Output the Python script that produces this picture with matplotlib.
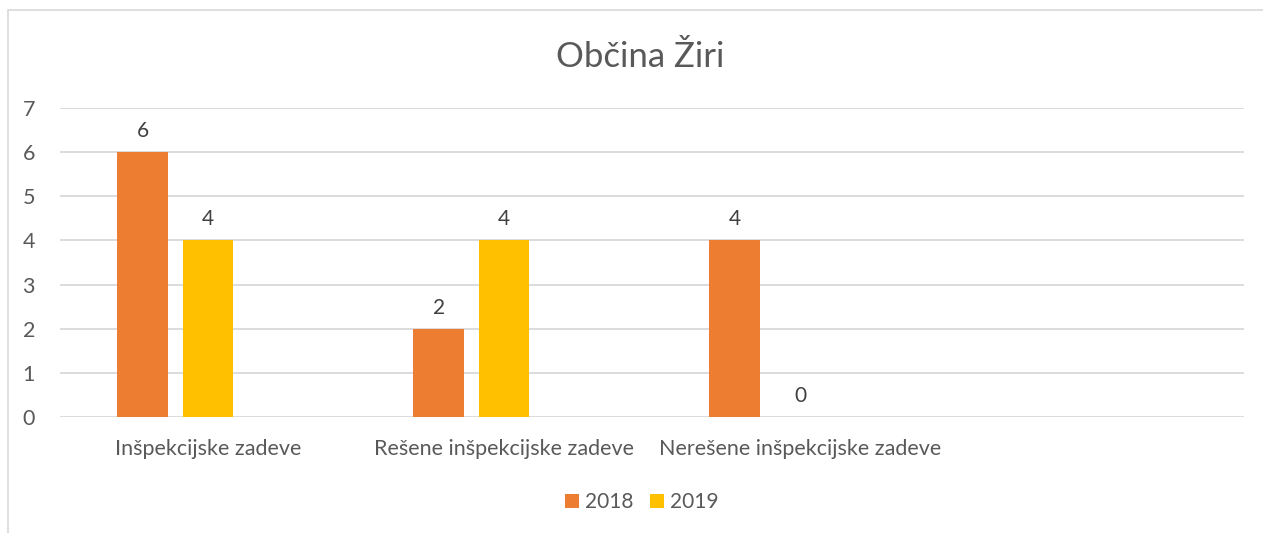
import matplotlib.pyplot as plt
from matplotlib.patches import Rectangle
import numpy as np

categories = ["Inšpekcijske zadeve", "Rešene inšpekcijske zadeve", "Nerešene inšpekcijske zadeve", ""]
series_names = ["2018", "2019"]
values_2018 = [6, 2, 4]
values_2019 = [4, 4, 0]
colors = ["#ED7D31", "#FFC000"]

plt.rcParams["font.family"] = ["Lato", "DejaVu Sans"]
txt = "#595959"

fig = plt.figure(figsize=(12.63, 5.33), dpi=100)
fig.patches.append(Rectangle((8 / 1263, -0.1), 1.2, 1 - 10 / 533 + 0.1, transform=fig.transFigure,
                             fill=False, edgecolor="#d9d9d9", linewidth=1.2))

ax = fig.add_axes([60 / 1263, 1 - 417 / 533, (1244 - 60) / 1263, (417 - 108) / 533])

x = np.arange(len(values_2018))
w = 0.172
offsets = [-0.22, 0.0]
for vals, name, c, off in zip([values_2018, values_2019], series_names, colors, offsets):
    bars = ax.bar(x + off, vals, width=w, color=c, label=name, zorder=3)
    for b, v in zip(bars, vals):
        ax.annotate(str(v), (b.get_x() + b.get_width() / 2, v), xytext=(0, 8),
                    textcoords="offset points", ha="center", va="bottom",
                    fontsize=15, color="#404040")

ax.set_xlim(-0.5, len(categories) - 0.5)
ax.set_ylim(0, 7)
ax.set_xticks(range(len(categories)))
ax.set_xticklabels(categories)
ax.set_yticks(range(0, 8))
ax.tick_params(axis="both", length=0, labelsize=15.5, labelcolor=txt)
ax.tick_params(axis="x", pad=16)
ax.tick_params(axis="y", pad=18)
ax.grid(axis="y", color="#d9d9d9", linewidth=1.3, zorder=0)
for s in ax.spines.values():
    s.set_visible(False)

fig.text(640 / 1263, 1 - 57 / 533, "Občina Žiri", ha="center", va="center", fontsize=25, color=txt)

fig.legend(loc="center", bbox_to_anchor=(642 / 1263, 1 - 502 / 533), ncol=2, frameon=False,
           fontsize=15, handlelength=0.65, handleheight=0.65, handletextpad=0.3, columnspacing=0.8,
           labelcolor=txt)

fig.savefig("out.png", dpi=100)
